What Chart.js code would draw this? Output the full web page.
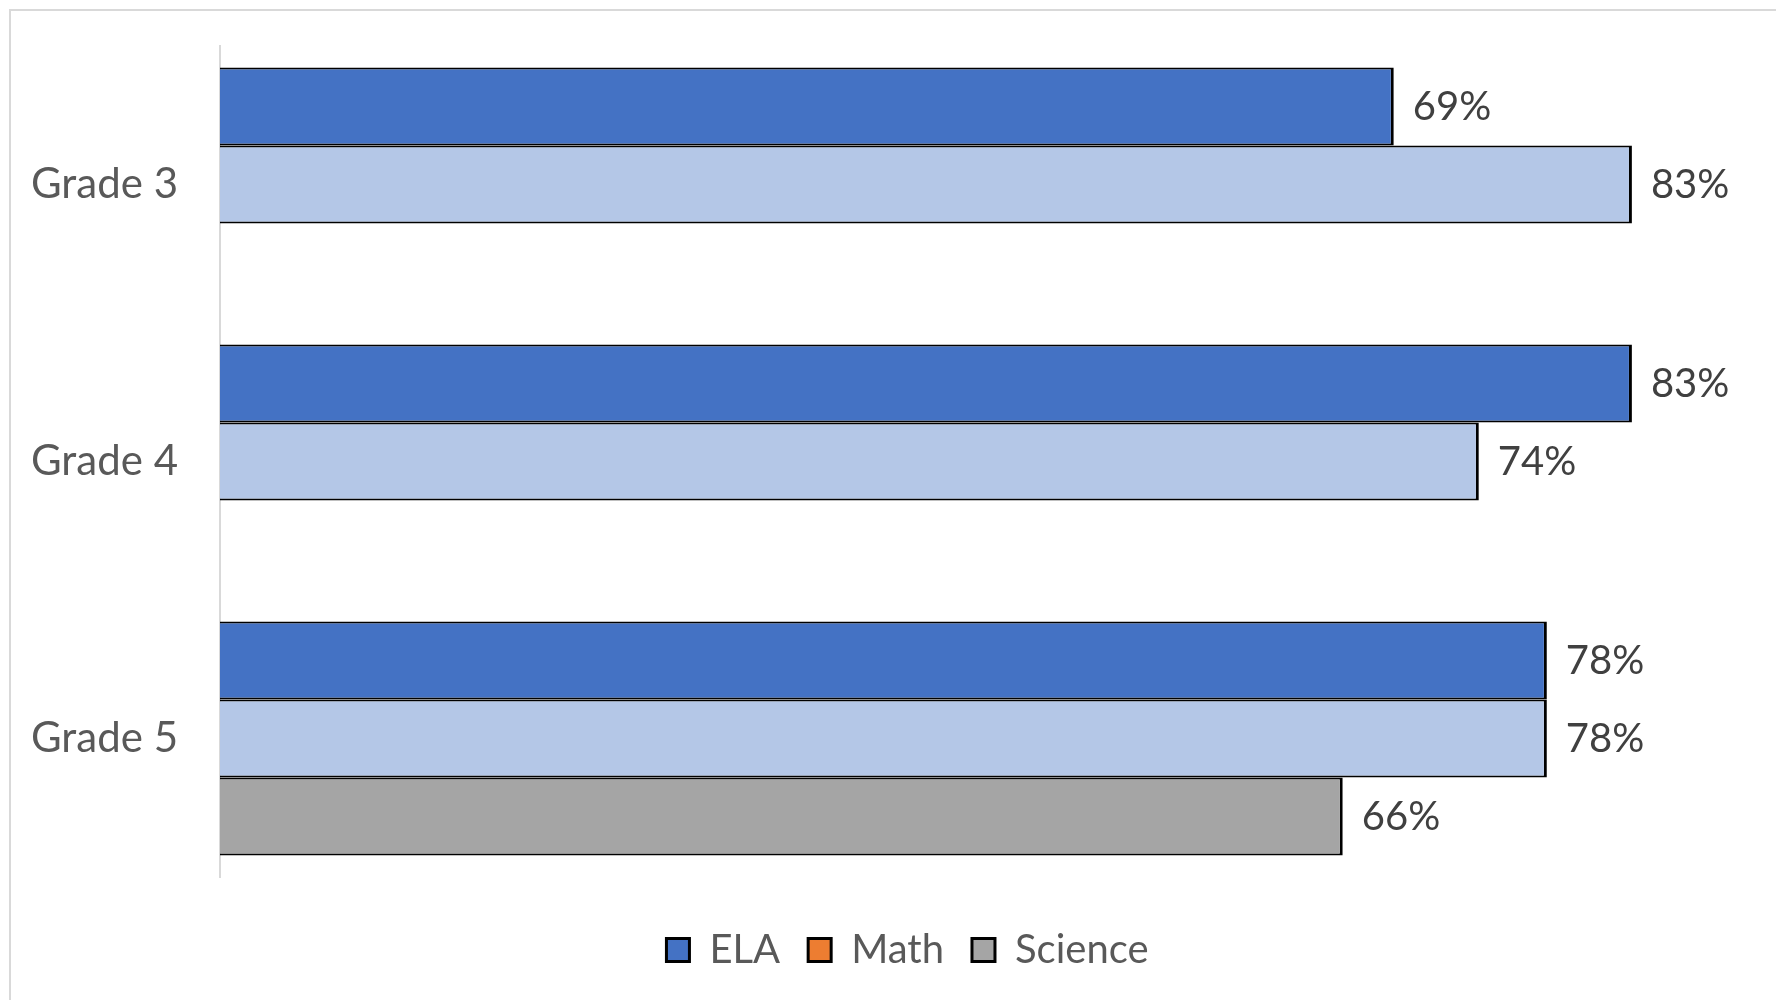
<!DOCTYPE html>
<html>
<head>
<meta charset="utf-8">
<script src="https://cdn.jsdelivr.net/npm/chart.js@4/dist/chart.umd.min.js"></script>
<style>
    html, body { margin: 0; padding: 0; background: #fff; overflow: hidden; }
    #wrap { position: relative; width: 1776px; height: 1000px; }
    #frame {
        position: absolute; left: 9px; top: 9px; width: 2000px; height: 1200px;
        border-left: 2px solid #d9d9d9; border-top: 2px solid #d9d9d9;
    }
    canvas { position: absolute; left: 0; top: 0; }
</style>
</head>
<body>
<div id="wrap">
    <div id="frame"></div>
    <canvas id="gradeChart" width="1776" height="1000"></canvas>
</div>
<script>
    const grades = ['Grade 3', 'Grade 4', 'Grade 5'];
    const elaScores = [69, 83, 78];
    const mathScores = [83, 74, 78];
    const scienceScores = [null, null, 66];

    const labelFont = { family: 'Lato', size: 40 };

    // value labels drawn just past the end of each bar
    const valueLabels = {
        id: 'valueLabels',
        afterDatasetsDraw(chart) {
            const ctx = chart.ctx;
            ctx.save();
            ctx.font = '40px Lato';
            ctx.fillStyle = '#404040';
            ctx.textAlign = 'left';
            ctx.textBaseline = 'middle';
            chart.data.datasets.forEach((ds, i) => {
                chart.getDatasetMeta(i).data.forEach((bar, j) => {
                    const v = ds.data[j];
                    if (v === null) return;
                    ctx.fillText(v + '%', bar.x + 19, bar.y + 1);
                });
            });
            ctx.restore();
        }
    };

    new Chart(document.getElementById('gradeChart'), {
        type: 'bar',
        data: {
            labels: grades,
            datasets: [
                { label: 'ELA', data: elaScores, backgroundColor: '#4472C4' },
                { label: 'Math', data: mathScores, backgroundColor: '#B4C7E7' },
                { label: 'Science', data: scienceScores, backgroundColor: '#A5A5A5' }
            ]
        },
        options: {
            indexAxis: 'y',
            responsive: false,
            animation: false,
            layout: { padding: { top: 46, right: 25, bottom: 20, left: 64 } },
            datasets: {
                bar: {
                    categoryPercentage: 0.845,
                    barPercentage: 1,
                    borderColor: '#000',
                    borderWidth: { top: 2, bottom: 2, right: 3, left: 0 }
                }
            },
            plugins: {
                tooltip: { enabled: false },
                legend: {
                    position: 'bottom',
                    labels: {
                        font: labelFont,
                        color: '#595959',
                        boxWidth: 23,
                        boxHeight: 23,
                        padding: 28,
                        generateLabels(chart) {
                            const items = Chart.defaults.plugins.legend.labels.generateLabels(chart);
                            items.forEach(it => { it.strokeStyle = '#000'; it.lineWidth = 3; });
                            items[1].fillStyle = '#ED7D31';
                            return items;
                        }
                    }
                }
            },
            scales: {
                x: {
                    min: 0,
                    max: 90,
                    grid: { display: false },
                    border: { display: false },
                    ticks: { display: false },
                    afterFit(scale) { scale.height = 25; }
                },
                y: {
                    grid: { display: false, drawTicks: false },
                    border: { display: true, color: '#d9d9d9', width: 2 },
                    ticks: { font: { family: 'Lato', size: 42 }, color: '#595959', padding: 42 },
                    afterFit(scale) {
                        scale.width = 156;
                        scale.paddingTop = 0;
                        scale.paddingBottom = 0;
                        // labels reach past the narrowed axis box, so do not clip them
                        scale._computeLabelArea = () => null;
                    }
                }
            }
        },
        plugins: [valueLabels]
    });
</script>
</body>
</html>
